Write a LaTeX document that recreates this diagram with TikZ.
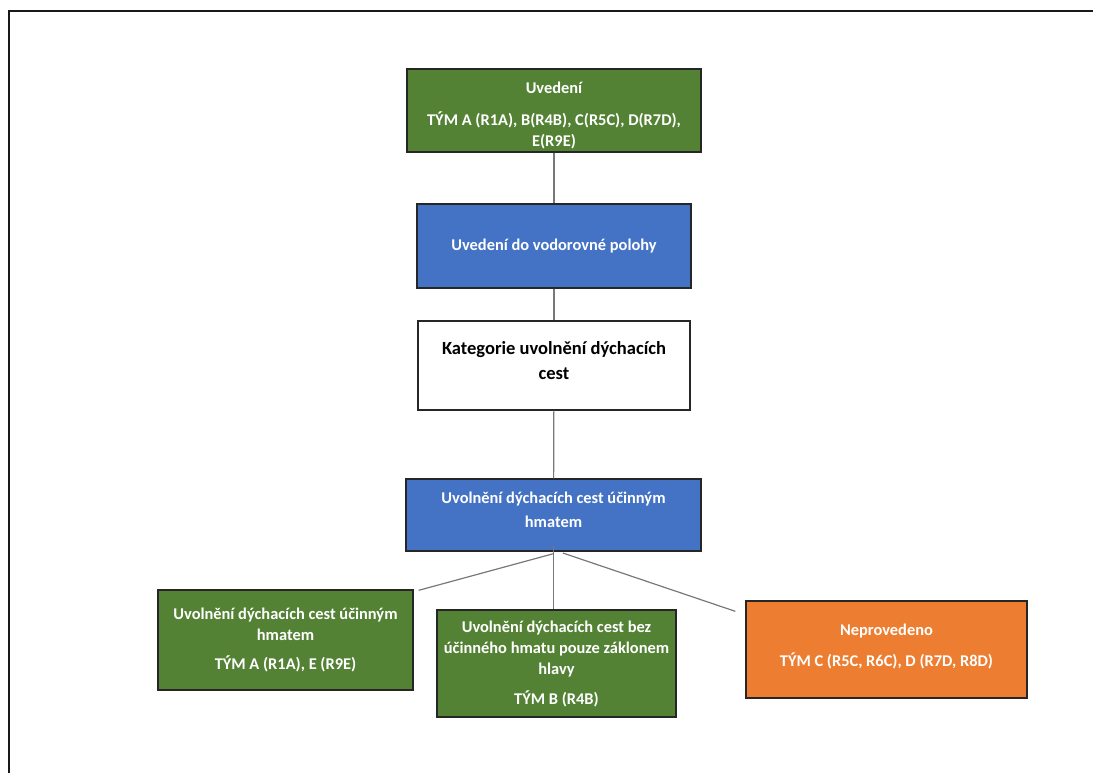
\documentclass[tikz,border=0pt]{standalone}
\usepackage{fontspec}
\setmainfont{Carlito}
\definecolor{boxgreen}{RGB}{84,130,53}
\definecolor{boxblue}{RGB}{68,114,196}
\definecolor{boxorange}{RGB}{237,125,49}
\definecolor{linkgray}{RGB}{120,120,120}
\begin{document}
\begin{tikzpicture}[x=0.75pt,y=-0.75pt,
		box/.style={draw=black!85,line width=1pt,align=center,inner sep=2pt,
			font=\bfseries\fontsize{12.3}{16}\selectfont},
		greenbox/.style={box,fill=boxgreen,text=white},
		bluebox/.style={box,fill=boxblue,text=white},
		orangebox/.style={box,fill=boxorange,text=white},
		link/.style={draw=linkgray,line width=0.9pt}]
		\useasboundingbox (0,0) rectangle (1093,773);
		\draw[line width=1.5pt,black!90] (1093,11.5) -- (8.5,11.5) -- (8.5,773);
		\node[greenbox,minimum width=220.5pt,minimum height=62.25pt,text depth=0pt] (uvedeni) at (554,110.5)
			{\rule{0pt}{14.5pt}Uvedení\\[7.5pt]TÝM A (R1A), B(R4B), C(R5C), D(R7D),\\E(R9E)};
		\node[bluebox,minimum width=205.5pt,minimum height=63pt] (poloha) at (554,246)
			{Uvedení do vodorovné polohy};
		\node[box,fill=white,minimum width=204pt,minimum height=66.75pt,text depth=8pt,
			font=\bfseries\fontsize{13.9}{18.75}\selectfont] (kategorie) at (554,365.5)
			{Kategorie uvolnění dýchacích\\cest};
		\node[bluebox,minimum width=221.25pt,minimum height=54pt,text depth=8pt] (hmat) at (553.5,515)
			{Uvolnění dýchacích cest účinným\\[2pt]hmatem};
		\node[greenbox,minimum width=191.25pt,minimum height=75pt] (teamae) at (285.5,640)
			{Uvolnění dýchacích cest účinným\\hmatem\\[6pt]TÝM A (R1A), E (R9E)};
		\node[greenbox,minimum width=179.25pt,minimum height=80.25pt] (teamb) at (556.5,663.5)
			{Uvolnění dýchacích cest bez\\účinného hmatu pouze záklonem\\hlavy\\[6pt]TÝM B (R4B)};
		\node[orangebox,minimum width=210.75pt,minimum height=72.75pt,text depth=6pt] (teamcd) at (886.5,649.5)
			{Neprovedeno\\[7pt]TÝM C (R5C, R6C), D (R7D, R8D)};
		% connectors
		\draw[link] (uvedeni) -- (poloha);
		\draw[link] (poloha) -- (kategorie);
		\draw[link] (kategorie) -- (hmat);
		\draw[link] ([yshift=4.5pt]hmat.south) -- (hmat.south |- teamb.north);
		\draw[link] ([yshift=-1.5pt]hmat.south) -- ([xshift=3.75pt,yshift=-0.75pt]teamae.north east);
		\draw[link] ([xshift=7pt,yshift=-1pt]hmat.south) -- ([xshift=-7.5pt,yshift=-8.25pt]teamcd.north west);
	\end{tikzpicture}
\end{document}
